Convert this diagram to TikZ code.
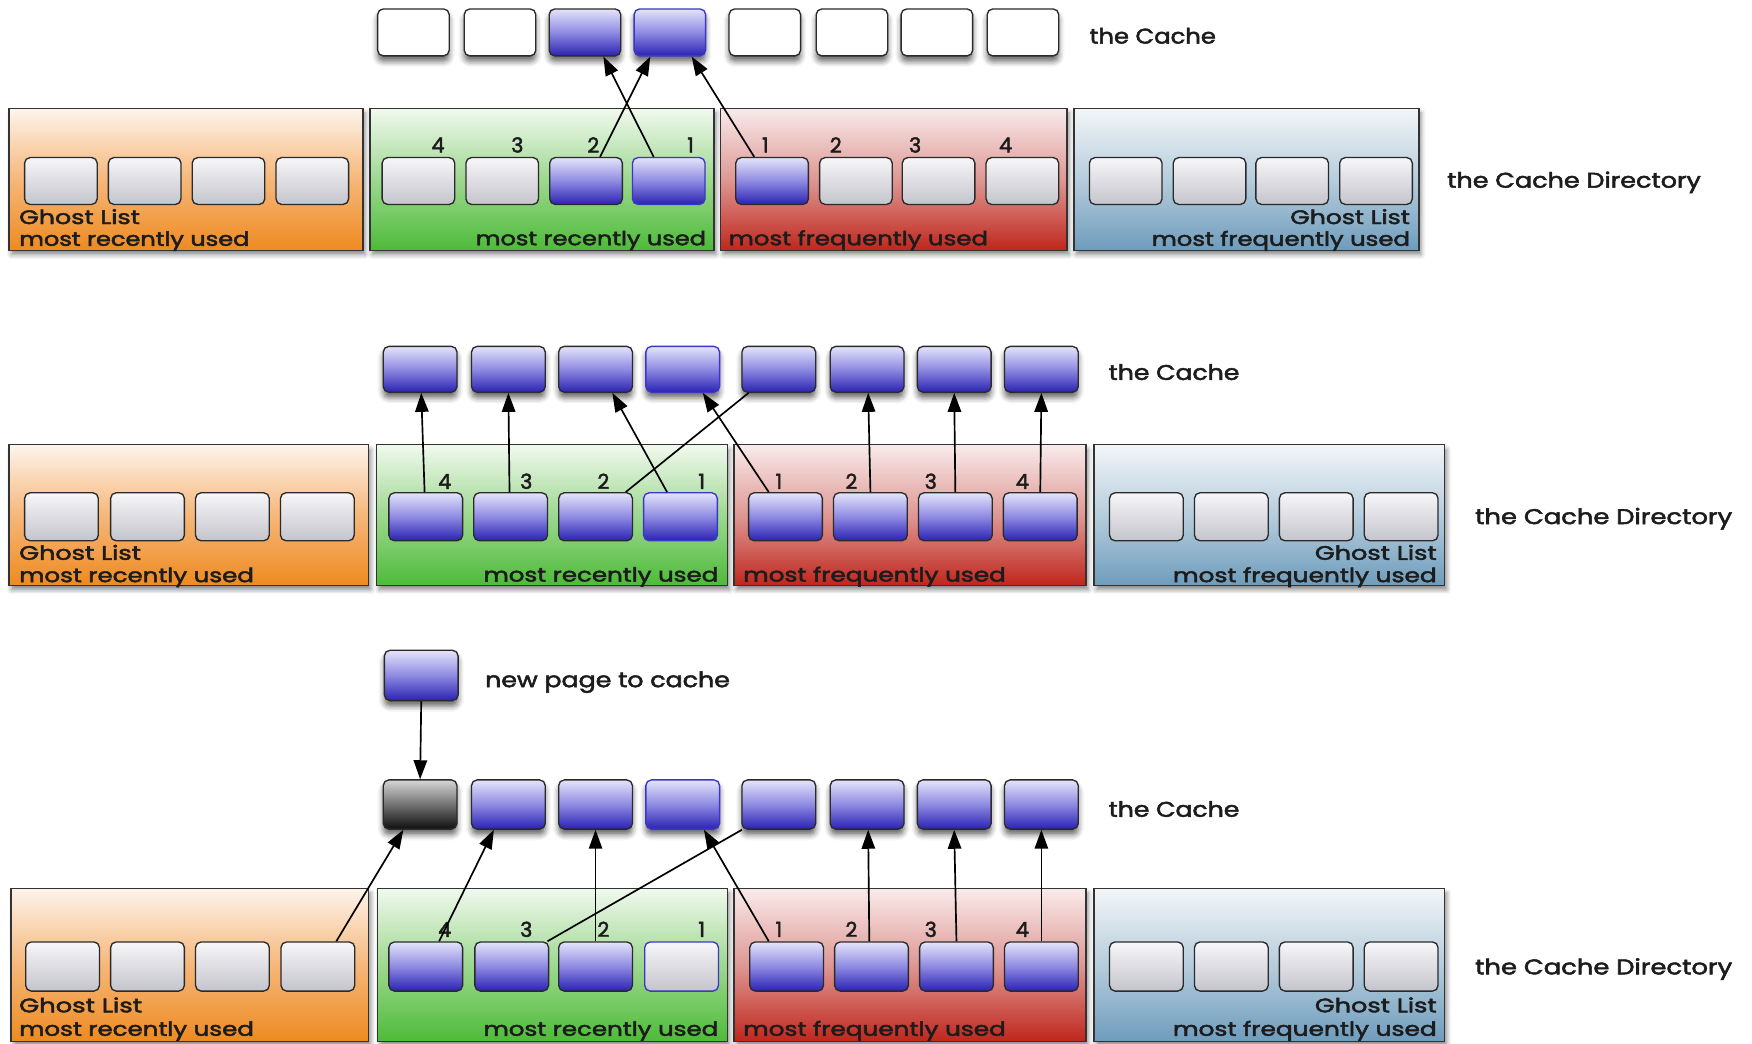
\documentclass[tikz,border=0pt]{standalone}
\usepackage{fontspec}
\setmainfont{Poppins}[FakeBold=2.2]
\usepackage{graphicx}
\usetikzlibrary{arrows.meta,shadows.blur,calc}

% cell and panel colours
\definecolor{greytop}{HTML}{F7F7F9}
\definecolor{greybot}{HTML}{C4C4CC}
\definecolor{bluetop}{HTML}{E4E4FA}
\definecolor{bluemid}{HTML}{8E8AE2}
\definecolor{bluebot}{HTML}{2A22B2}
\definecolor{darktop}{HTML}{D6D6D6}
\definecolor{darkbot}{HTML}{0E0E0E}
\definecolor{cellline}{HTML}{2A2A2A}
\definecolor{hiline}{HTML}{3A36C8}
\definecolor{panelline}{HTML}{333333}
\definecolor{orangetop}{HTML}{FDF4EC}
\definecolor{orangemid}{HTML}{F6B77A}
\definecolor{orangebot}{HTML}{EE8A20}
\definecolor{greentop}{HTML}{F1F9EF}
\definecolor{greenmid}{HTML}{9ED890}
\definecolor{greenbot}{HTML}{4DBB38}
\definecolor{redtop}{HTML}{F9EBEB}
\definecolor{redmid}{HTML}{DE9894}
\definecolor{redbot}{HTML}{C0261C}
\definecolor{steeltop}{HTML}{F3F6F8}
\definecolor{steelmid}{HTML}{B6CDDC}
\definecolor{steelbot}{HTML}{6E9CBC}
\definecolor{textcol}{HTML}{1C1C1C}

% squeeze a label to a given width, keeping its height
\newcommand\fitw[2]{\resizebox{#1pt}{\height}{#2}}

\begin{document}
\begin{tikzpicture}[x=1pt,y=-1pt,
  cell/.style={rectangle, rounded corners=5pt, minimum width=65pt, minimum height=42pt,
    inner sep=0pt, draw=cellline, line width=1.2pt},
  cshadow/.style={blur shadow={shadow xshift=0pt, shadow yshift=-5pt,
    shadow blur radius=5pt, shadow opacity=60}},
  greycell/.style={cell, top color=greytop, bottom color=greybot},
  greyhl/.style={greycell, draw=hiline},
  bluecell/.style={cell, top color=bluetop, bottom color=bluebot, middle color=bluemid},
  bluehl/.style={bluecell, draw=hiline},
  whitecell/.style={cell, fill=white},
  darkcell/.style={cell, top color=darktop, bottom color=darkbot},
  panel/.style={rectangle, inner sep=0pt, draw=panelline, line width=1.3pt,
    blur shadow={shadow xshift=2pt, shadow yshift=-4pt, shadow blur radius=4pt, shadow opacity=45}},
  orangepanel/.style={panel, top color=orangetop, bottom color=orangebot, middle color=orangemid},
  greenpanel/.style={panel, top color=greentop, bottom color=greenbot, middle color=greenmid},
  redpanel/.style={panel, top color=redtop, bottom color=redbot, middle color=redmid},
  steelpanel/.style={panel, top color=steeltop, bottom color=steelbot, middle color=steelmid},
  lbl/.style={inner sep=0pt, text=textcol, font=\fontsize{17.5}{17.5}\selectfont},
  biglbl/.style={inner sep=0pt, text=textcol, font=\fontsize{19}{19}\selectfont, anchor=base west},
  num/.style={inner sep=0pt, text=textcol, font=\fontsize{18.5}{18.5}\selectfont, anchor=base},
  link/.style={line width=1.5pt, draw=black},
  arr/.style={link, -{Triangle[length=17pt,width=12pt]}}
]
\useasboundingbox (0,0) rectangle (1568,934);

%% ---------------- first state ----------------
% the cache
\foreach \i/\x/\s in {1/370/whitecell,2/447.5/whitecell,3/523.5/bluecell,4/599.5/bluehl,
                      5/684.5/whitecell,6/762.5/whitecell,7/838.5/whitecell,8/915.5/whitecell}
  \node[\s, cshadow, minimum width=64pt] (aC\i) at (\x,29) {};
\node[biglbl] (aCacheLbl) at (975,39) {\fitw{113}{the Cache}};

% the cache directory
\node[orangepanel, minimum width=317pt, minimum height=127pt] (aO) at (166.5,160.5) {};
\node[greenpanel,  minimum width=308pt, minimum height=127pt] (aG) at (485,160.5) {};
\node[redpanel,    minimum width=310pt, minimum height=127pt] (aR) at (800,160.5) {};
\node[steelpanel,  minimum width=309pt, minimum height=127pt] (aB) at (1115.5,160.5) {};

\foreach \i/\x in {1/54.5,2/129.5,3/204.5,4/279.5}
  \node[greycell] (aO\i) at (\x,162) {};
\foreach \i/\x/\s in {4/374.5/greycell,3/449.5/greycell,2/524.5/bluecell,1/598.5/bluehl}
  \node[\s] (aG\i) at (\x,162) {};
\foreach \i/\x/\s in {1/691/bluecell,2/766/greycell,3/840/greycell,4/915/greycell}
  \node[\s] (aR\i) at (\x,162) {};
\foreach \i/\x in {1/1007.5,2/1082.5,3/1156.5,4/1231.5}
  \node[greycell] (aB\i) at (\x,162) {};

\foreach \n/\x in {4/392,3/463,2/531,1/618} \node[num] (aGn\n) at (\x,136.5) {\n};
\foreach \n/\x in {1/685,2/748,3/819,4/900} \node[num] (aRn\n) at (\x,136.5) {\n};

\node[lbl, anchor=base west] (aOt1) at (17,200.5) {\fitw{108}{Ghost List}};
\node[lbl, anchor=base west] (aOt2) at (17,220) {\fitw{206}{most recently used}};
\node[lbl, anchor=base east] (aGt)  at (632,219.5) {\fitw{206}{most recently used}};
\node[lbl, anchor=base west] (aRt)  at (652,219.5) {\fitw{232}{most frequently used}};
\node[lbl, anchor=base east] (aBt1) at (1262,200.5) {\fitw{107}{Ghost List}};
\node[lbl, anchor=base east] (aBt2) at (1262,220) {\fitw{231}{most frequently used}};
\node[biglbl] (aDirLbl) at (1295,168) {\fitw{227}{the Cache Directory}};

% pages served from the directory
\draw[arr] ([xshift=-13.5pt]aG1.north) -- ([xshift=16.5pt]aC3.south);
\draw[arr] ([xshift=12.5pt]aG2.north) -- ([xshift=-17.5pt]aC4.south);
\draw[arr] ([xshift=-16pt]aR1.north) -- ([xshift=19.5pt]aC4.south);

%% ---------------- second state ----------------
\foreach \i/\x/\s in {1/376/bluecell,2/455/bluecell,3/533/bluecell,4/611/bluehl,
                      5/697/bluecell,6/776/bluecell,7/854/bluecell,8/932/bluecell}
  \node[\s, cshadow, minimum width=66pt, minimum height=41pt] (bC\i) at (\x,330.5) {};
\node[biglbl] (bCacheLbl) at (992,340) {\fitw{117}{the Cache}};

\node[orangepanel, minimum width=322pt, minimum height=126pt] (bO) at (169,461) {};
\node[greenpanel,  minimum width=314pt, minimum height=126pt] (bG) at (494,461) {};
\node[redpanel,    minimum width=315pt, minimum height=126pt] (bR) at (814.5,461) {};
\node[steelpanel,  minimum width=314pt, minimum height=126pt] (bB) at (1136,461) {};

\foreach \i/\x in {1/55,2/132,3/208,4/284}
  \node[greycell, minimum width=66pt, minimum height=43pt] (bO\i) at (\x,462.5) {};
\foreach \i/\x/\s in {4/381/bluecell,3/457/bluecell,2/533/bluecell,1/609/bluehl}
  \node[\s, minimum width=66pt, minimum height=43pt] (bG\i) at (\x,462.5) {};
\foreach \i/\x in {1/703,2/779,3/855,4/931}
  \node[bluecell, minimum width=66pt, minimum height=43pt] (bR\i) at (\x,462.5) {};
\foreach \i/\x in {1/1026,2/1102,3/1178,4/1254}
  \node[greycell, minimum width=66pt, minimum height=43pt] (bB\i) at (\x,462.5) {};

\foreach \n/\x in {4/398,3/471,2/540,1/628} \node[num] (bGn\n) at (\x,437.5) {\n};
\foreach \n/\x in {1/697,2/762,3/833,4/915} \node[num] (bRn\n) at (\x,437.5) {\n};

\node[lbl, anchor=base west] (bOt1) at (17,501) {\fitw{109}{Ghost List}};
\node[lbl, anchor=base west] (bOt2) at (17,521) {\fitw{210}{most recently used}};
\node[lbl, anchor=base east] (bGt)  at (643,520.5) {\fitw{210}{most recently used}};
\node[lbl, anchor=base west] (bRt)  at (665,520.5) {\fitw{235}{most frequently used}};
\node[lbl, anchor=base east] (bBt1) at (1286,501) {\fitw{109}{Ghost List}};
\node[lbl, anchor=base east] (bBt2) at (1286,521) {\fitw{236}{most frequently used}};
\node[biglbl] (bDirLbl) at (1320,469) {\fitw{230}{the Cache Directory}};

\draw[arr] ([xshift=-1pt]bG4.north) -- ([xshift=1pt]bC1.south);
\draw[arr] ([xshift=-1pt]bG3.north) -- (bC2.south);
\draw[arr] ([xshift=-12pt]bG1.north) -- ([xshift=15pt]bC3.south);
\draw[link] ([xshift=27pt]bG2.north) -- ([xshift=-27pt]bC5.south);
\draw[arr] ([xshift=-15pt]bR1.north) -- ([xshift=18pt]bC4.south);
\draw[arr] (bR2.north) -- ([xshift=1pt]bC6.south);
\draw[arr] (bR3.north) -- (bC7.south);
\draw[arr] (bR4.north) -- (bC8.south);

%% ---------------- third state ----------------
\node[bluecell, cshadow, minimum width=66pt, minimum height=45pt] (cNew) at (377,604.5) {};
\node[biglbl] (cNewLbl) at (434,615) {\fitw{219}{new page to cache}};

\foreach \i/\x/\s in {1/376/darkcell,2/455/bluecell,3/533/bluecell,4/611/bluehl,
                      5/697/bluecell,6/776/bluecell,7/854/bluecell,8/932/bluecell}
  \node[\s, cshadow, minimum width=66pt, minimum height=44pt] (cC\i) at (\x,720) {};
\node[biglbl] (cCacheLbl) at (992,731) {\fitw{117}{the Cache}};

\node[orangepanel, minimum width=320pt, minimum height=137pt] (cO) at (170,863.5) {};
\node[greenpanel,  minimum width=313pt, minimum height=137pt] (cG) at (494.5,863.5) {};
\node[redpanel,    minimum width=315pt, minimum height=137pt] (cR) at (814.5,863.5) {};
\node[steelpanel,  minimum width=314pt, minimum height=137pt] (cB) at (1136,863.5) {};

\foreach \i/\x in {1/56,2/132,3/208,4/284.5}
  \node[greycell, minimum width=66pt, minimum height=44pt] (cO\i) at (\x,865) {};
\foreach \i/\x/\s in {4/381/bluecell,3/458/bluecell,2/533/bluecell,1/610/greyhl}
  \node[\s, minimum width=66pt, minimum height=44pt] (cG\i) at (\x,865) {};
\foreach \i/\x in {1/704,2/780,3/856,4/932}
  \node[bluecell, minimum width=66pt, minimum height=44pt] (cR\i) at (\x,865) {};
\foreach \i/\x in {1/1026,2/1102,3/1178,4/1254}
  \node[greycell, minimum width=66pt, minimum height=44pt] (cB\i) at (\x,865) {};

\foreach \n/\x in {4/398,3/471,2/540,1/628} \node[num] (cGn\n) at (\x,838.5) {\n};
\foreach \n/\x in {1/697,2/762,3/833,4/915} \node[num] (cRn\n) at (\x,838.5) {\n};

\node[lbl, anchor=base west] (cOt1) at (17,906) {\fitw{110}{Ghost List}};
\node[lbl, anchor=base west] (cOt2) at (17,927) {\fitw{210}{most recently used}};
\node[lbl, anchor=base east] (cGt)  at (643,927) {\fitw{210}{most recently used}};
\node[lbl, anchor=base west] (cRt)  at (665,927) {\fitw{235}{most frequently used}};
\node[lbl, anchor=base east] (cBt1) at (1286,906) {\fitw{109}{Ghost List}};
\node[lbl, anchor=base east] (cBt2) at (1286,927) {\fitw{236}{most frequently used}};
\node[biglbl] (cDirLbl) at (1320,872) {\fitw{230}{the Cache Directory}};

\draw[arr] (cNew.south) -- (cC1.north);
\draw[arr] ([xshift=16.5pt]cO4.north) -- ([xshift=-15pt]cC1.south);
\draw[arr] ([xshift=12pt]cG4.north) -- ([xshift=-13pt]cC2.south);
\draw[arr] (cG2.north) -- (cC3.south);
\draw[link] ([xshift=32pt]cG3.north) -- ([xshift=-33pt]cC5.south);
\draw[arr] ([xshift=-16pt]cR1.north) -- ([xshift=19pt]cC4.south);
\draw[arr] ([xshift=-2pt]cR2.north) -- ([xshift=1pt]cC6.south);
\draw[arr] (cR3.north) -- (cC7.south);
\draw[arr] (cR4.north) -- (cC8.south);
\end{tikzpicture}
\end{document}
